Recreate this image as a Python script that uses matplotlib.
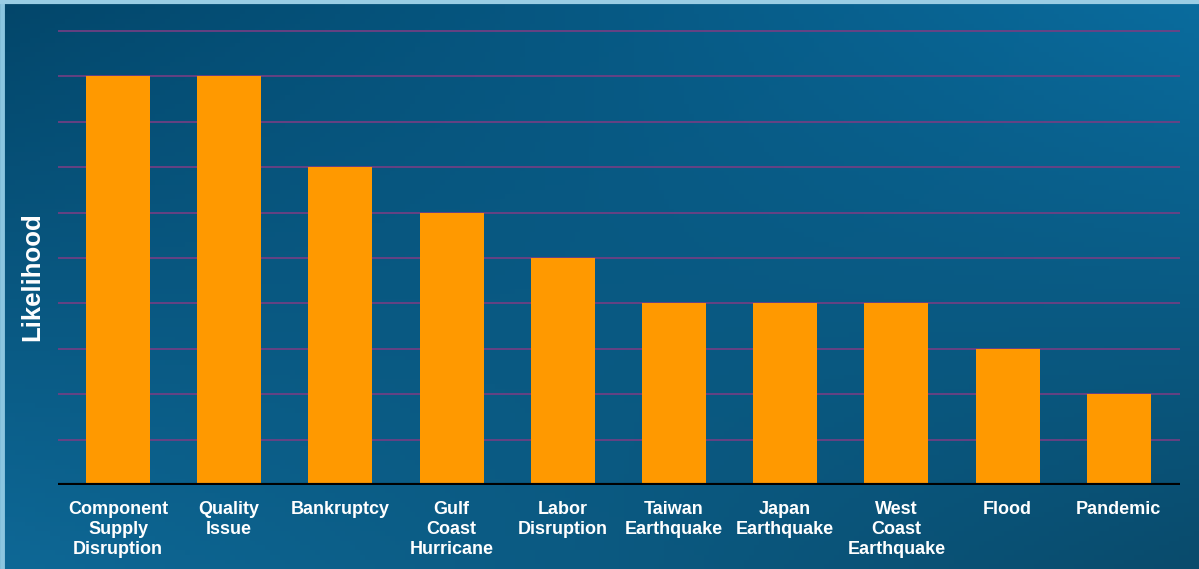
import numpy as np
import matplotlib
matplotlib.use("Agg")
import matplotlib.pyplot as plt
from matplotlib.colors import to_rgb

categories = ["Component\nSupply\nDisruption", "Quality\nIssue", "Bankruptcy",
              "Gulf\nCoast\nHurricane", "Labor\nDisruption", "Taiwan\nEarthquake",
              "Japan\nEarthquake", "West\nCoast\nEarthquake", "Flood", "Pandemic"]
likelihood = [9, 9, 7, 6, 5, 4, 4, 4, 3, 2]
y_ticks = [1, 2, 3, 4, 5, 6, 7, 8, 9, 10]

plt.rcParams['font.family'] = ['Liberation Sans', 'DejaVu Sans']

fig = plt.figure(figsize=(11.99, 5.69), dpi=100)

# background gradient
bg = fig.add_axes([0, 0, 1, 1], zorder=0)
bg.set_axis_off()
H, W = 120, 240
yy, xx = np.mgrid[0:1:H*1j, 0:1:W*1j]
tl = np.array(to_rgb("#03466a"))
tr = np.array(to_rgb("#0a6c9e"))
bl = np.array(to_rgb("#0e6896"))
br = np.array(to_rgb("#094b6c"))
img = ((1-xx)[..., None]*(1-yy)[..., None]*tl + xx[..., None]*(1-yy)[..., None]*tr
       + (1-xx)[..., None]*yy[..., None]*bl + xx[..., None]*yy[..., None]*br)
bg.imshow(img, extent=[0, 1, 0, 1], aspect='auto', origin='upper')
bg.set_xlim(0, 1); bg.set_ylim(0, 1)
# light border left and top
bg.plot([0.002, 0.002], [0, 1], color="#8cc6e0", lw=3.5, transform=bg.transAxes, clip_on=False)
bg.plot([0, 1], [0.997, 0.997], color="#9acde4", lw=3, transform=bg.transAxes, clip_on=False)

ax = fig.add_axes([58/1199, (569-485)/569, (1180-58)/1199, (485-30)/569], zorder=1)
ax.patch.set_alpha(0)
x = np.arange(len(categories))
ax.bar(x, likelihood, width=0.575, color="#ff9900", zorder=3)
ax.set_xlim(-0.54, len(categories) - 1 + 0.55)
ax.set_ylim(0, 10.02)
ax.set_yticks(y_ticks)
for v in y_ticks:
    ax.axhline(v, color="#763e84", lw=1.2, zorder=1)
ax.axhline(0, color="black", lw=3, zorder=4)
for s in ax.spines.values():
    s.set_visible(False)
ax.tick_params(axis='y', left=False, labelleft=False)
ax.tick_params(axis='x', bottom=False, pad=8)
ax.set_xticks(x)
ax.set_xticklabels(categories, color="white", fontsize=13, fontweight="bold",
                   va="top", linespacing=1.24)
ax.set_ylabel("Likelihood", color="white", fontsize=18.5, fontweight="bold")
ax.yaxis.set_label_coords(-0.0125, 0.459)

fig.savefig("out.png", dpi=100)
